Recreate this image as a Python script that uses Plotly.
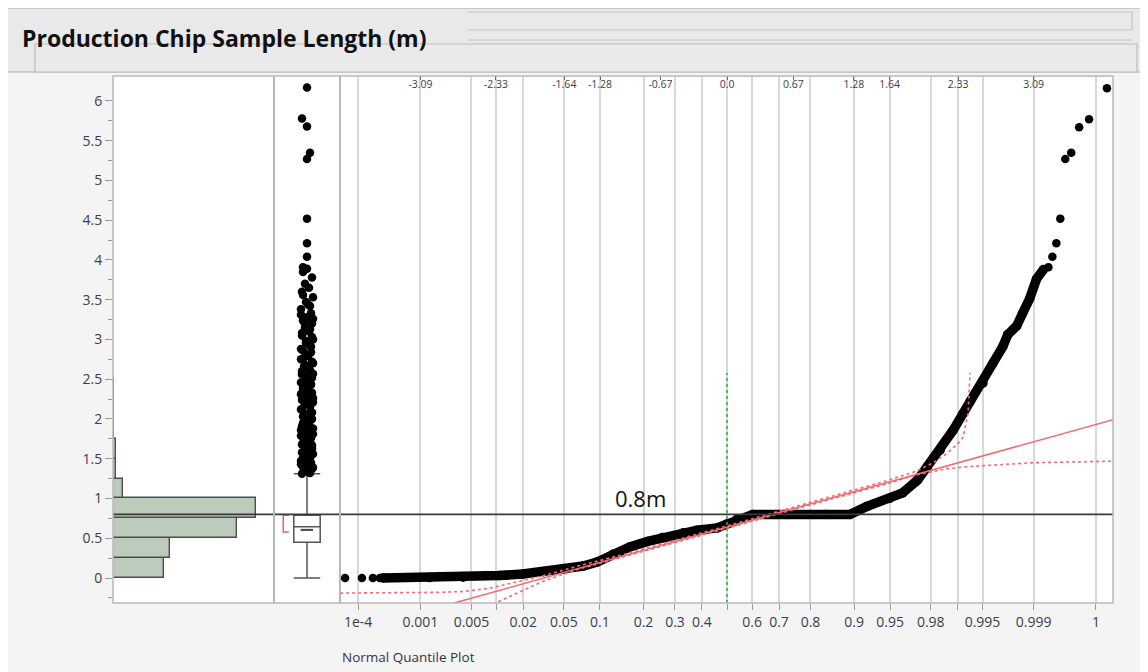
import plotly.graph_objects as go
from statistics import NormalDist

# page body has an 8px margin: figure is sized to the remaining window
OFF = 8
W, H = 1148 - OFF, 672 - OFF

# ---------------- data ----------------
# histogram bins (m) and counts
hist_bin_lo = [0.0, 0.25, 0.5, 0.75, 1.0, 1.25, 1.5, 1.75, 2.0, 2.25]
hist_counts = [1785, 1995, 4340, 5005, 350, 115, 105, 45, 42, 40]
hist_axis_max = 5635

# box plot summary
box_q1, box_median, box_q3 = 0.45, 0.645, 0.79
box_lowfence, box_upfence = 0.0, 1.31
mean_diamond_y = 0.605
shortest_half = [0.58, 0.79]

# box plot outliers (m)
outlier_vals = [1.31, 1.33, 1.35, 1.37, 1.40, 1.42, 1.45, 1.47, 1.50, 1.53, 1.56, 1.58,
                1.61, 1.64, 1.67, 1.70, 1.73, 1.76, 1.79, 1.82, 1.85, 1.88, 1.91, 1.94,
                1.97, 2.00, 2.03, 2.06, 2.09, 2.12, 2.15, 2.18, 2.21, 2.24, 2.27, 2.30,
                2.33, 2.36, 2.40, 2.43, 2.46, 2.50, 2.53, 2.57, 2.60, 2.64, 2.68, 2.72,
                2.76, 2.80, 2.84, 2.88, 2.92, 2.96, 3.00, 3.05, 3.10, 3.15, 3.20, 3.24,
                3.28, 3.33, 3.38, 3.42, 3.47, 3.53, 3.60, 3.65, 3.70, 3.78, 3.85, 3.89,
                3.91, 4.04, 4.21, 4.52, 5.27, 5.35, 5.68, 5.78, 6.17]
outlier_vals_2 = [1.32, 1.36, 1.39, 1.43, 1.46, 1.51, 1.55, 1.59, 1.63, 1.68, 1.72, 1.77,
                  1.81, 1.86, 1.90, 1.95, 1.99, 2.04, 2.08, 2.13, 2.17, 2.22, 2.26, 2.31,
                  2.35, 2.39, 2.44, 2.48, 2.52, 2.56, 2.61, 2.66, 2.70, 2.75, 2.79, 2.86,
                  2.91, 2.98, 3.03, 3.08, 3.13, 3.22, 3.26, 3.31, 3.44, 3.56]
jitter_pattern_px = [-5, 2, -2, 5, -4, 0, 4, -6, 3, -1, 6]
jitter_pattern_2_px = [3, -3, 6, -6, 1, -4, 4, -1, 5, -5]
sparse_jitter_px = [-4, 0, 0, 0, 0, 3, 0, -5, 0]

# normal quantile plot: sorted values vs normal quantile
q_left_z = [-3.85, -3.68, -3.57, -3.50]
q_left_y = [0.0, 0.0, 0.0, 0.0]
q_mid_z = [-3.47, -3.0, -2.66, -2.3, -2.06, -1.85, -1.65, -1.45, -1.31, -1.15, -0.98,
           -0.8, -0.65, -0.44, -0.3, -0.1, 0.0, 0.1, 0.26, 0.6, 1.0, 1.24, 1.41, 1.64,
           1.77, 1.92, 2.02, 2.15, 2.28, 2.38, 2.45, 2.58, 2.68, 2.78, 2.83, 2.92, 2.98,
           3.05, 3.12, 3.19]
q_mid_y = [0.0, 0.005, 0.01, 0.03, 0.05, 0.08, 0.11, 0.15, 0.20, 0.30, 0.39,
           0.46, 0.51, 0.57, 0.60, 0.63, 0.68, 0.74, 0.80, 0.80, 0.80, 0.80, 0.90, 1.00,
           1.07, 1.23, 1.40, 1.61, 1.86, 2.07, 2.22, 2.45, 2.70, 2.91, 3.06, 3.17, 3.33,
           3.51, 3.76, 3.88]
q_right_z = [3.24, 3.28, 3.32, 3.36, 3.41, 3.47, 3.55, 3.65, 3.83]
q_right_y = [3.91, 4.04, 4.21, 4.52, 5.27, 5.35, 5.67, 5.77, 6.16]

# normal fit
fit_mu, fit_sigma = 0.64, 0.347
fit_z = [-3.9, 3.9]

# confidence bands
band_up_z = [-3.9, -3.3, -2.9, -2.66, -2.4, -2.12, -1.85, -1.5, -1.0, 0.0, 1.0, 1.6, 1.9, 2.08, 2.22, 2.32, 2.38, 2.43, 2.45]
band_up_y = [-0.19, -0.185, -0.18, -0.17, -0.13, -0.05, 0.03, 0.15, 0.31, 0.655, 1.005, 1.22, 1.34, 1.45, 1.57, 1.68, 1.77, 2.07, 2.58]
band_lo_z = [-2.36, -2.12, -1.85, -1.5, -1.0, 0.0, 1.0, 1.6, 1.92, 2.2, 2.42, 2.8, 3.08, 3.5, 3.9]
band_lo_y = [-0.33, -0.19, -0.04, 0.11, 0.28, 0.625, 0.975, 1.18, 1.30, 1.37, 1.40, 1.43, 1.45, 1.46, 1.47]

# axis ticks
bottom_probs = [1e-4, 0.001, 0.005, 0.01, 0.02, 0.05, 0.1, 0.2, 0.3, 0.4, 0.5, 0.6, 0.7,
                0.8, 0.9, 0.95, 0.98, 0.99, 0.995, 0.999, 0.9999]
bottom_labels = ["1e-4", "0.001", "0.005", "", "0.02", "0.05", "0.1", "0.2", "0.3", "0.4", "",
                 "0.6", "0.7", "0.8", "0.9", "0.95", "0.98", "", "0.995", "0.999", "1"]
top_quantiles = [-3.09, -2.33, -1.64, -1.28, -0.67, 0.0, 0.67, 1.28, 1.64, 2.33, 3.09]
top_labels = ["-3.09", "-2.33", "-1.64", "-1.28", "-0.67", "0.0", "0.67", "1.28", "1.64", "2.33", "3.09"]

ref_value = 0.8
ref_label = "0.8m"
median_z_line_top = 2.58

# ---------------- layout helpers (reference window pixels -> paper) ----------------
def X(px):
    return (px - OFF) / W

def Y(py):
    return 1 - (py - OFF) / H

nd = NormalDist()
bottom_z = [nd.inv_cdf(p) for p in bottom_probs]

x_hist = (113, 274)
x_box = (274, 340)
x_q = (340, 1113)
y_top, y_bot = 76, 603
y_range = [-0.3145, 6.314]

FONT = "Open Sans"
TICKC = "#3d3d4a"

fig = go.Figure()

# histogram
fig.add_trace(go.Bar(
    y=[b + 0.125 for b in hist_bin_lo], x=hist_counts, orientation="h", width=0.25,
    marker=dict(color="#bccbbb", line=dict(color="#4d4d4d", width=1.4)),
    xaxis="x", yaxis="y", showlegend=False, hoverinfo="skip"))

# box
fig.add_trace(go.Box(
    x=[0], q1=[box_q1], median=[box_median], q3=[box_q3],
    lowerfence=[box_lowfence], upperfence=[box_upfence],
    width=0.8, whiskerwidth=1, fillcolor="white", boxpoints=False,
    line=dict(color="#555555", width=1.5), xaxis="x2", yaxis="y", showlegend=False))

fig.add_trace(go.Scatter(
    x=[-0.19, 0.18], y=[mean_diamond_y, mean_diamond_y], mode="lines",
    line=dict(color="#444444", width=2), xaxis="x2", yaxis="y", showlegend=False))

fig.add_trace(go.Scatter(
    x=[-0.55, -0.72, -0.72, -0.55],
    y=[shortest_half[1], shortest_half[1], shortest_half[0], shortest_half[0]],
    mode="lines", line=dict(color="#f0606a", width=1.5),
    xaxis="x2", yaxis="y", showlegend=False))

n_sparse = len(sparse_jitter_px)
jit = [jitter_pattern_px[i % len(jitter_pattern_px)] for i in range(len(outlier_vals) - n_sparse)] + sparse_jitter_px
jit2 = [jitter_pattern_2_px[i % len(jitter_pattern_2_px)] for i in range(len(outlier_vals_2))]
fig.add_trace(go.Scatter(
    x=[j / 33.0 for j in jit + jit2], y=outlier_vals + outlier_vals_2, mode="markers",
    marker=dict(color="black", size=8.5), xaxis="x2", yaxis="y", showlegend=False))

# quantile plot
fig.add_trace(go.Scatter(
    x=[-3.9, -3.9], y=[0, 0], mode="lines", xaxis="x4", yaxis="y",
    showlegend=False, hoverinfo="skip", line=dict(width=0)))

fig.add_trace(go.Scatter(
    x=q_mid_z, y=q_mid_y, mode="lines+markers",
    line=dict(color="black", width=9.5), marker=dict(color="black", size=9.5),
    xaxis="x3", yaxis="y", showlegend=False))
fig.add_trace(go.Scatter(
    x=q_left_z + q_right_z, y=q_left_y + q_right_y, mode="markers",
    marker=dict(color="black", size=8.5), xaxis="x3", yaxis="y", showlegend=False))

fig.add_trace(go.Scatter(
    x=band_up_z, y=band_up_y, mode="lines",
    line=dict(color="#f26a74", width=1.6, dash="dot"), xaxis="x3", yaxis="y", showlegend=False))
fig.add_trace(go.Scatter(
    x=band_lo_z, y=band_lo_y, mode="lines",
    line=dict(color="#f26a74", width=1.6, dash="dot"), xaxis="x3", yaxis="y", showlegend=False))
fig.add_trace(go.Scatter(
    x=fit_z, y=[fit_mu + fit_sigma * z for z in fit_z], mode="lines",
    line=dict(color="#f26a74", width=1.6), xaxis="x3", yaxis="y", showlegend=False))

# green vertical line at z = 0
fig.add_trace(go.Scatter(
    x=[0, 0], y=[y_range[0], median_z_line_top], mode="lines",
    line=dict(color="#3aa84a", width=1.5, dash="dot"), xaxis="x3", yaxis="y", showlegend=False))

shapes = []
# outer frame and header
shapes.append(dict(type="rect", xref="paper", yref="paper", x0=X(5), x1=X(1160), y0=Y(690), y1=Y(8),
                   fillcolor="#f4f4f4", line=dict(color="#a8a8a8", width=1.2), layer="below"))
shapes.append(dict(type="rect", xref="paper", yref="paper", x0=X(5), x1=X(1160), y0=Y(72), y1=Y(8),
                   fillcolor="#e9e9e9", line=dict(color="#a8a8a8", width=1.2), layer="below"))
shapes.append(dict(type="rect", xref="paper", yref="paper", x0=X(35), x1=X(1137), y0=Y(72), y1=Y(44),
                   fillcolor="#eaeaea", line=dict(color="#bdbdbd", width=1.2), layer="below"))
for yy in [12, 30, 40]:
    shapes.append(dict(type="line", xref="paper", yref="paper", x0=X(468), x1=X(1132), y0=Y(yy), y1=Y(yy),
                       line=dict(color="#c4c4c4", width=1.2), layer="below"))
shapes.append(dict(type="line", xref="paper", yref="paper", x0=X(1132), x1=X(1132), y0=Y(30), y1=Y(12),
                   line=dict(color="#c4c4c4", width=1.2), layer="below"))
# plot region background
shapes.append(dict(type="rect", xref="paper", yref="paper", x0=X(113), x1=X(1113), y0=Y(y_bot), y1=Y(y_top),
                   fillcolor="white", line=dict(width=0), layer="below"))
# 0.8 reference line
shapes.append(dict(type="line", xref="paper", yref="y", x0=X(113), x1=X(1113), y0=ref_value, y1=ref_value,
                   line=dict(color="#3a3a3a", width=1.6), layer="above"))
# panel borders
shapes.append(dict(type="rect", xref="paper", yref="paper", x0=X(113), x1=X(1113), y0=Y(y_bot), y1=Y(y_top),
                   line=dict(color="#b8b8b8", width=1.5), layer="above"))
for xx in [274, 340]:
    shapes.append(dict(type="line", xref="paper", yref="paper", x0=X(xx), x1=X(xx), y0=Y(y_bot), y1=Y(y_top),
                       line=dict(color="#b8b8b8", width=2), layer="above"))

annotations = [
    dict(text="<b>Production Chip Sample Length (m)</b>", xref="paper", yref="paper", x=X(20), y=Y(38),
         xanchor="left", yanchor="middle", showarrow=False, font=dict(family=FONT, size=23, color="#111111")),
    dict(text="Normal Quantile Plot", xref="paper", yref="paper", x=X(340), y=Y(657),
         xanchor="left", yanchor="middle", showarrow=False, font=dict(family=FONT, size=13.5, color="#333340")),
    dict(text=ref_label, xref="x3", yref="y", x=(640 - 727) / 99.2, y=ref_value, yshift=16,
         xanchor="center", yanchor="middle", showarrow=False, font=dict(family=FONT, size=22, color="#111111")),
]

q_range = [(x_q[0] - 727) / 99.2, (x_q[1] - 727) / 99.2]

fig.update_layout(
    width=W, height=H, margin=dict(l=0, r=0, t=0, b=0),
    paper_bgcolor="#f4f4f4", plot_bgcolor="white",
    shapes=shapes, annotations=annotations, bargap=0,
    font=dict(family=FONT, color=TICKC),
    xaxis=dict(domain=[X(x_hist[0]), X(x_hist[1])], range=[0, hist_axis_max], visible=False,
               anchor="y", fixedrange=True),
    xaxis2=dict(domain=[X(x_box[0]), X(x_box[1])], range=[-1, 1], visible=False, anchor="y"),
    xaxis3=dict(domain=[X(x_q[0]), X(x_q[1])], range=q_range, anchor="y",
                tickmode="array", tickvals=bottom_z, ticktext=bottom_labels,
                ticks="outside", ticklen=6, tickcolor="#9a9a9a", tickwidth=1.2,
                showgrid=True, gridcolor="#d8d8d8", gridwidth=1.5, zeroline=False,
                showline=False, tickfont=dict(family=FONT, size=14, color=TICKC)),
    xaxis4=dict(overlaying="x3", side="top", range=q_range, anchor="y",
                tickmode="array", tickvals=top_quantiles, ticktext=top_labels,
                ticks="inside", ticklen=4, tickcolor="#666666", ticklabelposition="inside",
                showgrid=False, zeroline=False, showline=False,
                tickfont=dict(family=FONT, size=10.5, color=TICKC)),
    yaxis=dict(domain=[Y(y_bot), Y(y_top)], range=y_range, anchor="x",
               tickmode="linear", tick0=0, dtick=0.5, ticks="outside", ticklen=7,
               tickcolor="#9a9a9a", tickwidth=1.2, showgrid=False, zeroline=False,
               showline=False, tickfont=dict(family=FONT, size=14, color=TICKC),
               minor=dict(dtick=0.25, tick0=0, ticks="outside", ticklen=4, tickcolor="#9a9a9a")),
)

fig.write_html("out.html")
